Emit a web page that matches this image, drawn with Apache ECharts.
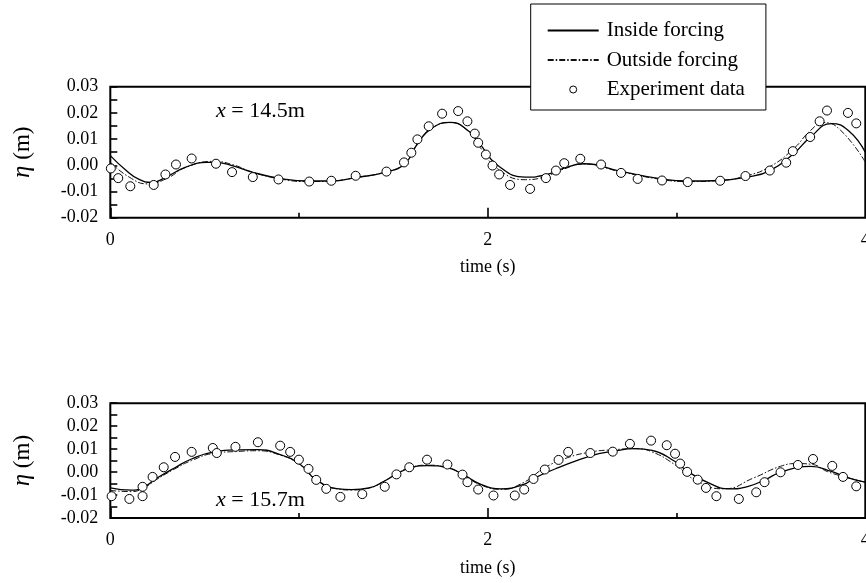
<!DOCTYPE html>
<html>
<head>
<meta charset="utf-8">
<script src="https://cdn.jsdelivr.net/npm/echarts@6/dist/echarts.min.js"></script>
<style>
  html, body { margin: 0; padding: 0; background: #fff; }
  #chart { width: 866px; height: 583px; }
</style>
</head>
<body>
<div id="chart"></div>
<script>
// Free-surface elevation at two gauges: simulated (inside / outside forcing) vs measured.

// Gauge x = 14.5 m
const insideTop = [
  [0, 0.0037], [0.08, -0.0017], [0.15, -0.0053], [0.22, -0.0065], [0.3, -0.0043],
  [0.4, -0.0007], [0.51, 0.0011], [0.55, 0.0011], [0.65, -0.0002], [0.755, -0.0027],
  [0.9, -0.005], [1.05, -0.006], [1.17, -0.006], [1.3, -0.0047], [1.46, -0.0026],
  [1.56, 0.0006], [1.63, 0.0085], [1.7, 0.014], [1.8, 0.0164], [1.9, 0.013],
  [1.96, 0.008], [2.05, 0.0001], [2.2, -0.0045], [2.31, -0.0036], [2.4, -0.0012],
  [2.51, 0.0006], [2.7, -0.0022], [2.92, -0.0052], [3.06, -0.006], [3.23, -0.0058],
  [3.37, -0.0045], [3.49, -0.0022], [3.62, 0.0044], [3.71, 0.0108], [3.82, 0.0159],
  [3.91, 0.0133], [4.0, 0.005]
];
const outsideTop = [
  [0, 0.0012], [0.1, -0.0045], [0.2, -0.0071], [0.3, -0.005], [0.4, -0.0008],
  [0.55, 0.0015], [0.65, 0.0002], [0.75, -0.0025], [0.9, -0.0052], [1.05, -0.0062],
  [1.17, -0.006], [1.3, -0.0047], [1.46, -0.0025], [1.56, 0.0008], [1.63, 0.0086],
  [1.7, 0.014], [1.8, 0.0163], [1.9, 0.0128], [1.96, 0.0068], [2.05, -0.0012],
  [2.2, -0.0055], [2.31, -0.0042], [2.4, -0.0015], [2.51, 0.0005], [2.7, -0.0024],
  [2.92, -0.0054], [3.06, -0.0062], [3.23, -0.0058], [3.37, -0.004], [3.49, -0.0007],
  [3.62, 0.0063], [3.71, 0.0133], [3.78, 0.0163], [3.87, 0.0133], [4.0, 0.0012]
];
const measuredTop = [
  [0.003, -0.0012], [0.042, -0.0049], [0.106, -0.008], [0.23, -0.0075], [0.292, -0.0035],
  [0.348, 0.0003], [0.431, 0.0026], [0.56, 0.0006], [0.645, -0.0026], [0.755, -0.0045],
  [0.891, -0.0054], [1.054, -0.0062], [1.171, -0.0059], [1.30, -0.004], [1.463, -0.0024],
  [1.556, 0.0011], [1.595, 0.0048], [1.627, 0.0099], [1.687, 0.0149], [1.758, 0.0197],
  [1.843, 0.0207], [1.892, 0.0168], [1.931, 0.0121], [1.949, 0.0086], [1.99, 0.0041],
  [2.025, -0.0001], [2.06, -0.0035], [2.118, -0.0075], [2.224, -0.009], [2.308, -0.0049],
  [2.361, -0.002], [2.405, 0.0008], [2.49, 0.0025], [2.60, 0.0003], [2.706, -0.0029],
  [2.794, -0.0052], [2.923, -0.0058], [3.059, -0.0064], [3.231, -0.0059], [3.365, -0.0041],
  [3.494, -0.002], [3.581, 0.001], [3.616, 0.0054], [3.708, 0.0108], [3.758, 0.0168],
  [3.797, 0.0209], [3.908, 0.02], [3.952, 0.016]
];

// Gauge x = 15.7 m
const insideBottom = [
  [0, -0.0069], [0.11, -0.0079], [0.17, -0.0069], [0.25, -0.0025], [0.34, 0.0018],
  [0.43, 0.0057], [0.55, 0.0088], [0.68, 0.0097], [0.78, 0.0098], [0.9, 0.0076],
  [1.0, 0.0037], [1.09, -0.0033], [1.2, -0.0072], [1.28, -0.0076], [1.37, -0.0069],
  [1.45, -0.004], [1.52, -0.0007], [1.59, 0.0018], [1.68, 0.0028], [1.79, 0.0018],
  [1.87, -0.0011], [1.96, -0.0052], [2.07, -0.0073], [2.19, -0.0054], [2.25, -0.0025],
  [2.37, 0.0018], [2.55, 0.0072], [2.66, 0.009], [2.78, 0.0102], [2.87, 0.0095],
  [2.99, 0.0047], [3.06, 0.0003], [3.17, -0.0047], [3.28, -0.0073], [3.38, -0.0062],
  [3.47, -0.0033], [3.55, -0.0001], [3.71, 0.0025], [3.82, 0.0003], [3.91, -0.0025],
  [4.0, -0.0044]
];
const outsideBottom = [
  [0, -0.008], [0.11, -0.0085], [0.17, -0.0072], [0.25, -0.003], [0.34, 0.0013],
  [0.43, 0.005], [0.55, 0.0082], [0.68, 0.009], [0.78, 0.0093], [0.9, 0.0074],
  [1.0, 0.0035], [1.09, -0.0033], [1.2, -0.0073], [1.28, -0.0078], [1.37, -0.007],
  [1.45, -0.004], [1.52, -0.0005], [1.59, 0.002], [1.68, 0.003], [1.79, 0.0018],
  [1.87, -0.0012], [1.96, -0.0055], [2.07, -0.0075], [2.19, -0.0045], [2.3, 0.0018],
  [2.42, 0.0062], [2.55, 0.0088], [2.66, 0.0097], [2.78, 0.0102], [2.87, 0.0088],
  [2.99, 0.0033], [3.11, -0.004], [3.25, -0.0073], [3.41, -0.0025], [3.55, 0.0025],
  [3.64, 0.0037], [3.72, 0.0033], [3.8, 0.0002], [3.91, -0.0025], [4.0, -0.0044]
];
const measuredBottom = [
  [0.007, -0.0105], [0.101, -0.0117], [0.171, -0.0105], [0.171, -0.0064], [0.224, -0.0021],
  [0.283, 0.0021], [0.343, 0.0066], [0.431, 0.0088], [0.543, 0.0105], [0.564, 0.0083],
  [0.663, 0.011], [0.782, 0.013], [0.90, 0.0115], [0.953, 0.0088], [0.999, 0.0054],
  [1.05, 0.0014], [1.091, -0.0034], [1.144, -0.0073], [1.219, -0.0108], [1.335, -0.0096],
  [1.454, -0.0064], [1.516, -0.001], [1.584, 0.0021], [1.678, 0.0054], [1.786, 0.0033],
  [1.866, -0.0011], [1.892, -0.0044], [1.949, -0.0076], [2.03, -0.0102], [2.143, -0.0102],
  [2.193, -0.0076], [2.242, -0.003], [2.302, 0.0011], [2.375, 0.0053], [2.426, 0.0088],
  [2.543, 0.0083], [2.662, 0.0089], [2.753, 0.0123], [2.865, 0.0137], [2.948, 0.0117],
  [2.992, 0.008], [3.019, 0.0037], [3.056, 0.0001], [3.112, -0.0033], [3.156, -0.0069],
  [3.211, -0.0105], [3.33, -0.0117], [3.422, -0.0088], [3.466, -0.0044], [3.551, -0.0001],
  [3.643, 0.0031], [3.723, 0.0057], [3.825, 0.0027], [3.882, -0.0021], [3.952, -0.0062]
];

const seriesNames = ['Inside forcing', 'Outside forcing', 'Experiment data'];
const gaugeLabels = ['14.5m', '15.7m'];
const timeRange = [0, 4];
const etaRange = [-0.02, 0.03];

const SERIF = '"Liberation Serif", "Times New Roman", serif';
const DASH_DOT = [6, 2, 1.5, 2];

const chart = echarts.init(document.getElementById('chart'), null, { renderer: 'canvas' });

function xAxisFor(gridIndex) {
  return {
    type: 'value', gridIndex,
    min: timeRange[0], max: timeRange[1], interval: 2,
    axisLine: { show: false, onZero: false },
    axisTick: { show: true, inside: true, length: 10, lineStyle: { color: '#000', width: 1.6 } },
    minorTick: { show: true, splitNumber: 2, length: 5, lineStyle: { color: '#000', width: 1.6 } },
    splitLine: { show: false },
    minorSplitLine: { show: false },
    axisLabel: { color: '#000', fontFamily: SERIF, fontSize: 18, margin: 13.5 },
    name: 'time (s)', nameLocation: 'middle', nameGap: 41,
    nameTextStyle: { color: '#000', fontFamily: SERIF, fontSize: 18 }
  };
}

function yAxisFor(gridIndex) {
  return {
    type: 'value', gridIndex,
    min: etaRange[0], max: etaRange[1], interval: 0.01,
    axisLine: { show: false, onZero: false },
    axisTick: { show: true, inside: true, length: 7, lineStyle: { color: '#000', width: 1.6 } },
    minorTick: { show: true, splitNumber: 2, length: 7, lineStyle: { color: '#000', width: 1.6 } },
    splitLine: { show: false },
    minorSplitLine: { show: false },
    axisLabel: {
      color: '#000', fontFamily: SERIF, fontSize: 18, margin: 12,
      formatter: v => (Math.abs(v) < 1e-9 ? 0 : v).toFixed(2)
    },
    name: '{i|η} (m)', nameLocation: 'middle', nameGap: 75,
    nameTextStyle: {
      color: '#000', fontFamily: SERIF, fontSize: 23,
      rich: { i: { fontStyle: 'italic', fontFamily: SERIF, fontSize: 25, color: '#000' } }
    }
  };
}

const markerStyle = { color: '#fff', borderColor: '#000', borderWidth: 1, opacity: 1 };

function curves(gridIndex, inside, outside, measured) {
  return [
    {
      name: seriesNames[0], type: 'line', xAxisIndex: gridIndex, yAxisIndex: gridIndex,
      data: inside, smooth: 0.5, symbol: 'none',
      itemStyle: { color: '#000' },
      lineStyle: { color: '#000', width: 1.3 }, z: 3
    },
    {
      name: seriesNames[1], type: 'line', xAxisIndex: gridIndex, yAxisIndex: gridIndex,
      data: outside, smooth: 0.5, symbol: 'none',
      itemStyle: { color: '#111' },
      lineStyle: { color: '#111', width: 1, type: DASH_DOT }, z: 2
    },
    {
      name: seriesNames[2], type: 'scatter', xAxisIndex: gridIndex, yAxisIndex: gridIndex,
      data: measured, symbol: 'circle', symbolSize: 9,
      itemStyle: markerStyle, z: 4
    }
  ];
}

function gaugeText(label, top) {
  return {
    type: 'text', left: 216, top: top, z: 10,
    style: {
      text: '{i|x} = ' + label,
      fill: '#000', font: '22px ' + SERIF,
      rich: { i: { fontStyle: 'italic', fontFamily: SERIF, fontSize: 22, fill: '#000' } }
    }
  };
}

const gridBase = {
  left: 110.3, width: 755, show: true, borderColor: '#000', borderWidth: 2,
  backgroundColor: 'transparent', outerBoundsMode: 'none', containLabel: false
};

const option = {
  backgroundColor: '#fff',
  animation: false,
  grid: [
    Object.assign({}, gridBase, { top: 86.7, height: 131 }),
    Object.assign({}, gridBase, { top: 403.2, height: 114.8 })
  ],
  xAxis: [xAxisFor(0), xAxisFor(1)],
  yAxis: [yAxisFor(0), yAxisFor(1)],
  legend: {
    orient: 'vertical', left: 530.7, top: 4,
    padding: [16, 21, 10, 16], itemGap: 8.5,
    itemWidth: 51, itemHeight: 7,
    backgroundColor: '#fff', borderColor: '#000', borderWidth: 1,
    textStyle: { color: '#000', fontFamily: SERIF, fontSize: 21, padding: [0, 0, 0, 3] },
    data: [
      { name: seriesNames[0], itemStyle: { opacity: 0 } },
      { name: seriesNames[1], itemStyle: { opacity: 0 } },
      { name: seriesNames[2], icon: 'circle', itemStyle: markerStyle }
    ],
    z: 20
  },
  graphic: [gaugeText(gaugeLabels[0], 100), gaugeText(gaugeLabels[1], 489)],
  series: [
    ...curves(0, insideTop, outsideTop, measuredTop),
    ...curves(1, insideBottom, outsideBottom, measuredBottom)
  ]
};

chart.setOption(option);
</script>
</body>
</html>
